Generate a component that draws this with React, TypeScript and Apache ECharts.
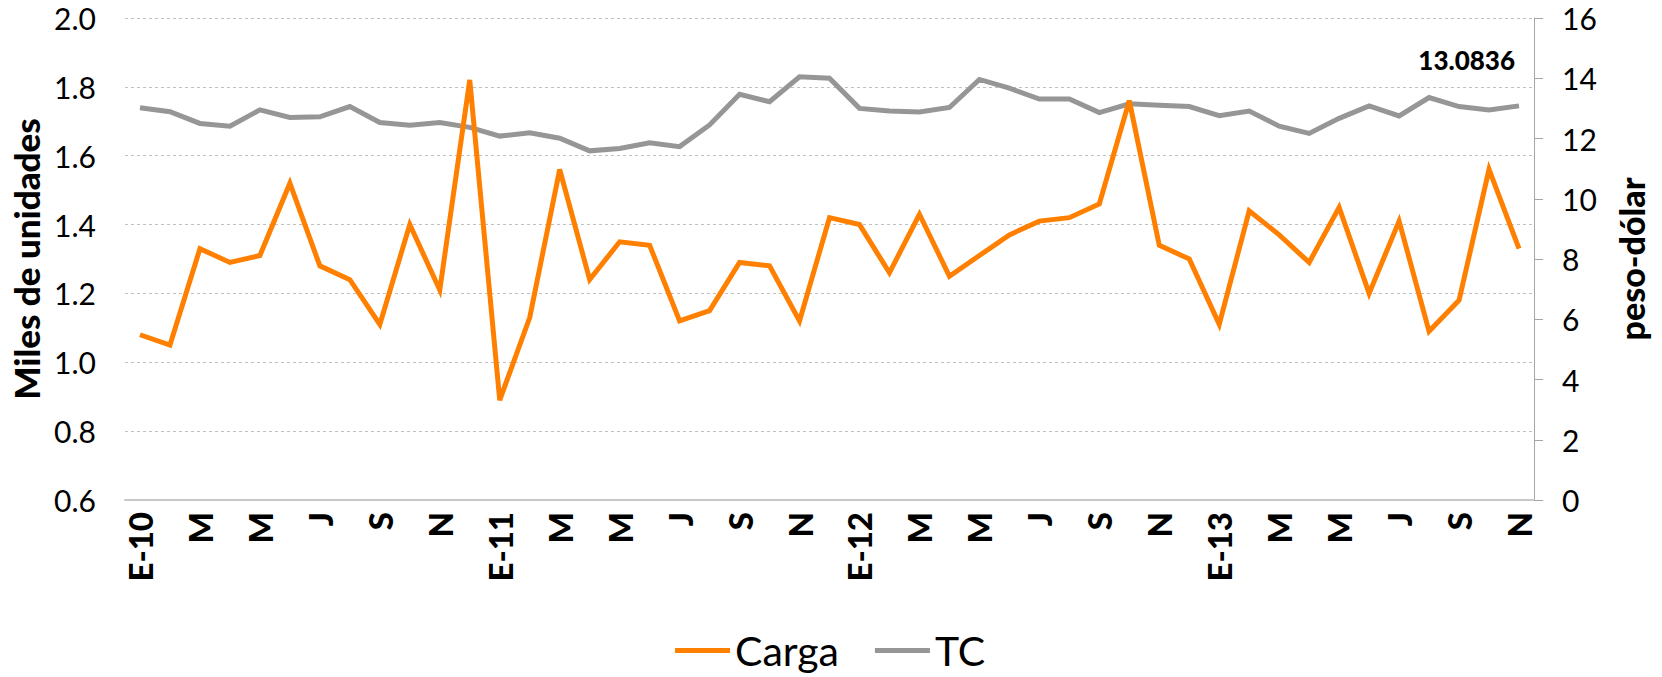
import React, { useEffect, useRef } from "react";
import * as echarts from "echarts";

const monthInitials = ["E", "F", "M", "A", "M", "J", "J", "A", "S", "O", "N", "D"];
const years = ["10", "11", "12", "13"];
const categories: string[] = [];
years.forEach((y) => monthInitials.forEach((m, i) => categories.push(i === 0 ? `E-${y}` : m)));
categories.splice(47);

const carga = [
  1.08, 1.05, 1.33, 1.29, 1.31, 1.52, 1.28, 1.24, 1.11, 1.40, 1.21, 1.82,
  0.89, 1.13, 1.56, 1.24, 1.35, 1.34, 1.12, 1.15, 1.29, 1.28, 1.12, 1.42,
  1.40, 1.26, 1.43, 1.25, 1.31, 1.37, 1.41, 1.42, 1.46, 1.76, 1.34, 1.30,
  1.11, 1.44, 1.37, 1.29, 1.45, 1.20, 1.41, 1.09, 1.18, 1.56, 1.33,
];

const tc = [
  13.02, 12.89, 12.5, 12.41, 12.95, 12.7, 12.72, 13.06, 12.53, 12.44, 12.53, 12.37,
  12.08, 12.19, 12.01, 11.59, 11.67, 11.86, 11.73, 12.45, 13.47, 13.22, 14.05, 14.0,
  13.0, 12.91, 12.88, 13.03, 13.96, 13.67, 13.31, 13.31, 12.86, 13.15, 13.1, 13.06,
  12.76, 12.91, 12.41, 12.17, 12.67, 13.08, 12.75, 13.36, 13.06, 12.95, 13.0836,
];

const leftTicks = { min: 0.6, max: 2.0, interval: 0.2 };
const rightTicks = { min: 0, max: 16, interval: 2 };
const lastLabel = "13.0836";

const FONT = "Lato, 'Open Sans', sans-serif";

export default function App() {
  const ref = useRef<HTMLDivElement>(null);
  useEffect(() => {
    if (!ref.current) return;
    const chart = echarts.init(ref.current, undefined, { renderer: "svg" });
    const lastIdx = tc.length - 1;
    chart.setOption({
      animation: false,
      textStyle: { fontFamily: FONT },
      grid: { left: 125, right: 128, top: 18, bottom: 177, containLabel: false },
      legend: {
        left: 670,
        top: 625,
        itemWidth: 55,
        itemHeight: 5,
        itemGap: 36,
        icon: "rect",
        data: ["Carga", "TC"],
        textStyle: { fontSize: 41, color: "#000", fontFamily: FONT },
      },
      xAxis: {
        type: "category",
        data: categories,
        boundaryGap: true,
        axisLine: { show: true, lineStyle: { color: "#c8c8c8", width: 2 } },
        axisTick: { show: false },
        axisLabel: {
          interval: 1,
          rotate: 90,
          fontSize: 33,
          fontWeight: 900,
          color: "#000",
          margin: 12,
          fontFamily: FONT,
        },
        splitLine: { show: false },
      },
      yAxis: [
        {
          type: "value",
          min: leftTicks.min,
          max: leftTicks.max,
          interval: leftTicks.interval,
          name: "Miles de unidades",
          nameLocation: "middle",
          nameRotate: 90,
          nameGap: 80,
          nameTextStyle: { fontSize: 35, fontWeight: 900, color: "#000", fontFamily: FONT },
          axisLine: { show: false },
          axisTick: { show: false },
          axisLabel: {
            fontSize: 30,
            color: "#000",
            margin: 29,
            fontFamily: FONT,
            formatter: (v: number) => v.toFixed(1),
          },
          splitLine: { show: true, lineStyle: { color: "#c0c0c0", width: 1, type: [3, 3] } },
        },
        {
          type: "value",
          min: rightTicks.min,
          max: rightTicks.max,
          interval: rightTicks.interval,
          position: "right",
          name: "peso-dólar",
          nameLocation: "middle",
          nameRotate: 90,
          nameGap: 80,
          nameTextStyle: { fontSize: 34, fontWeight: 900, color: "#000", fontFamily: FONT },
          axisLine: { show: true, lineStyle: { color: "#a6a6a6", width: 1 } },
          axisTick: { show: true, inside: false, length: 9, lineStyle: { color: "#a6a6a6" } },
          axisLabel: { fontSize: 30, color: "#000", margin: 28, fontFamily: FONT },
          splitLine: { show: false },
        },
      ],
      series: [
        {
          name: "Carga",
          type: "line",
          yAxisIndex: 0,
          data: carga,
          showSymbol: false,
          z: 3,
          color: "#ff8000",
          lineStyle: { color: "#ff8000", width: 5, join: "miter" },
          itemStyle: { color: "#ff8000" },
        },
        {
          name: "TC",
          type: "line",
          yAxisIndex: 1,
          data: tc,
          showSymbol: false,
          z: 2,
          color: "#969696",
          lineStyle: { color: "#969696", width: 5, join: "miter" },
          itemStyle: { color: "#969696" },
          markPoint: {
            symbol: "circle",
            symbolSize: 1,
            itemStyle: { color: "rgba(0,0,0,0)" },
            data: [
              {
                coord: [lastIdx, tc[lastIdx]],
                label: {
                  show: true,
                  formatter: lastLabel,
                  position: "inside",
                  align: "right",
                  verticalAlign: "middle",
                  offset: [-4, -46],
                  fontSize: 26,
                  fontWeight: 900,
                  color: "#000",
                  fontFamily: FONT,
                },
              },
            ],
          },
        },
      ],
    });
    return () => chart.dispose();
  }, []);
  return (
    <div
      ref={ref}
      style={{ position: "fixed", left: 0, top: 0, width: 1662, height: 677, background: "#fff" }}
    />
  );
}
